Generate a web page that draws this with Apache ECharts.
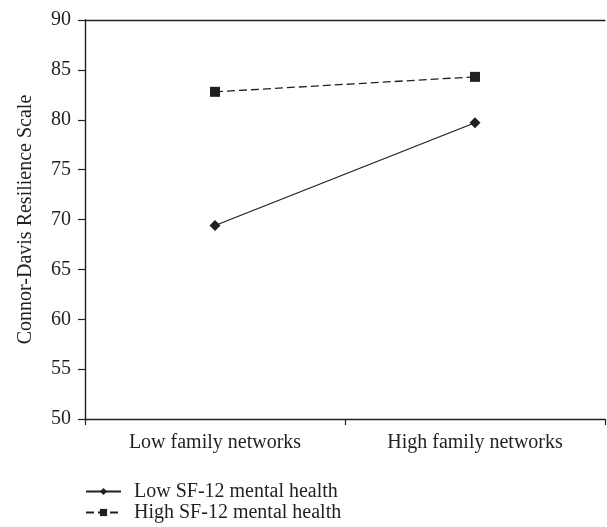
<!DOCTYPE html>
<html>
<head>
<meta charset="utf-8">
<script src="https://cdn.jsdelivr.net/npm/echarts@6/dist/echarts.min.js"></script>
<style>
  html, body { margin: 0; padding: 0; background: #fff; }
  #chart { width: 607px; height: 527px; }
</style>
</head>
<body>
<div id="chart"></div>
<script>
// Family network level on the x axis
const categories = ['Low family networks', 'High family networks'];
// Mean resilience scores per SF-12 mental health group
const lowSF12 = [69.4, 79.7];
const highSF12 = [82.8, 84.3];
const seriesNames = ['Low SF-12 mental health', 'High SF-12 mental health'];
const yTicks = { min: 50, max: 90, step: 5 };

const ink = '#231f20';
const serif = '"Liberation Serif", "DejaVu Serif", serif';
const fs = 20;

const chart = echarts.init(document.getElementById('chart'), null, { renderer: 'canvas' });
chart.setOption({
  animation: false,
  backgroundColor: '#fff',
  textStyle: { fontFamily: serif, color: ink },
  grid: { left: 85, right: 2, top: 20, bottom: 108, containLabel: false },
  xAxis: [
    {
      type: 'category',
      data: categories,
      boundaryGap: true,
      axisLine: { show: true, lineStyle: { color: ink, width: 1.3 } },
      axisTick: { show: true, length: 6, lineStyle: { color: ink, width: 1.2 } },
      axisLabel: { fontFamily: serif, fontSize: fs, color: ink, margin: 14 }
    },
    {
      type: 'category',
      data: categories,
      position: 'top',
      axisLine: { show: true, lineStyle: { color: ink, width: 1.3 } },
      axisTick: { show: false },
      axisLabel: { show: false }
    }
  ],
  yAxis: {
    type: 'value',
    min: yTicks.min,
    max: yTicks.max,
    interval: yTicks.step,
    name: 'Connor-Davis Resilience Scale',
    nameLocation: 'middle',
    nameGap: 49,
    nameTextStyle: { fontFamily: serif, fontSize: fs, color: ink },
    axisLine: { show: true, lineStyle: { color: ink, width: 1.4 } },
    axisTick: { show: true, length: 7, lineStyle: { color: ink, width: 1.2 } },
    axisLabel: { fontFamily: serif, fontSize: fs, color: ink, margin: 14 },
    splitLine: { show: false }
  },
  legend: {
    orient: 'vertical',
    left: 85,
    top: 481,
    height: 46,
    padding: 0,
    itemWidth: 35,
    itemHeight: 9,
    itemGap: 0,
    textStyle: { fontFamily: serif, fontSize: fs, color: ink, lineHeight: 21, padding: [0, 0, 0, 8] },
    data: seriesNames
  },
  series: [
    {
      name: seriesNames[0],
      type: 'line',
      data: lowSF12,
      symbol: 'diamond',
      symbolSize: 11,
      itemStyle: { color: ink },
      lineStyle: { color: ink, width: 1.3, type: 'solid' }
    },
    {
      name: seriesNames[1],
      type: 'line',
      data: highSF12,
      symbol: 'rect',
      symbolSize: 10,
      itemStyle: { color: ink },
      lineStyle: { color: ink, width: 1.3, type: [8, 4] }
    }
  ]
});
</script>
</body>
</html>
